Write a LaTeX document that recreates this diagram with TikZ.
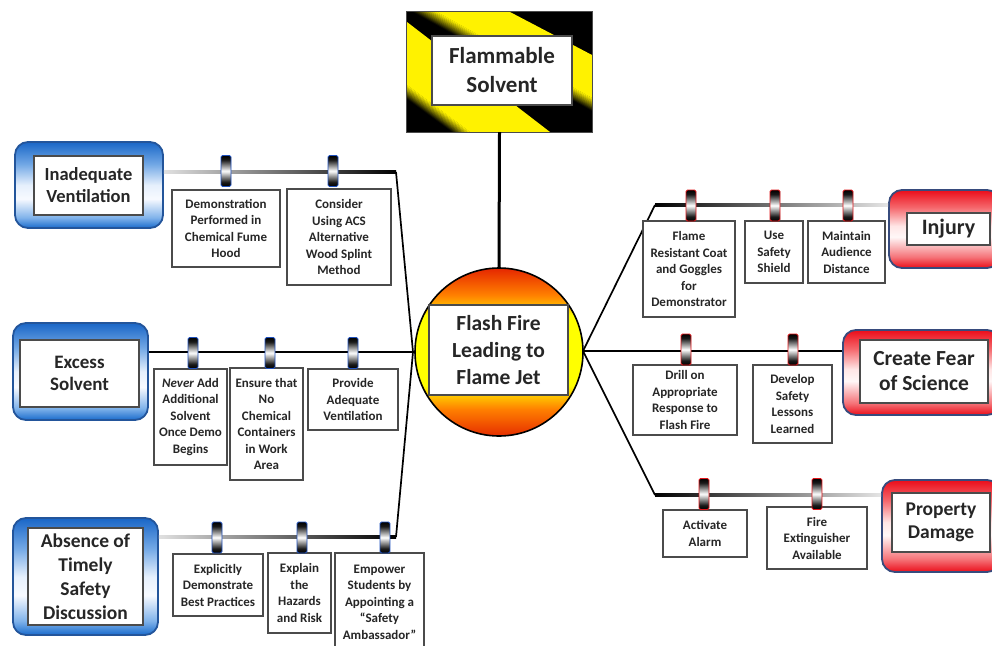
\documentclass[tikz,border=0pt]{standalone}
\usepackage{fontspec}
\setmainfont{Carlito}
\usetikzlibrary{calc}
\definecolor{txt}{RGB}{38,38,38}
\definecolor{boxline}{RGB}{75,75,75}
\definecolor{blueout}{RGB}{35,85,155}
\definecolor{redout}{RGB}{55,75,125}
\definecolor{clipblue}{RGB}{30,80,190}
\definecolor{clipred}{RGB}{225,20,25}
\definecolor{haz}{RGB}{255,242,0}
\pgfdeclareverticalshading{circshade}{100bp}{rgb(0bp)=(0.9,0.18,0); rgb(25bp)=(0.9,0.18,0); rgb(33bp)=(1,0.5,0); rgb(38bp)=(1,0.85,0); rgb(40bp)=(1,1,0); rgb(61bp)=(1,1,0); rgb(64bp)=(1,0.7,0); rgb(67bp)=(1,0.5,0); rgb(75bp)=(0.9,0.15,0); rgb(100bp)=(0.9,0.15,0)}
\pgfdeclareverticalshading{blueshade}{100bp}{rgb(0bp)=(0.1,0.42,0.8); rgb(25bp)=(0.1,0.42,0.8); rgb(31bp)=(0.5,0.7,0.92); rgb(42bp)=(0.97,0.98,1); rgb(50bp)=(0.9,0.94,0.99); rgb(62bp)=(0.45,0.66,0.9); rgb(75bp)=(0.1,0.4,0.78); rgb(100bp)=(0.1,0.4,0.78)}
\pgfdeclareverticalshading{redshade}{100bp}{rgb(0bp)=(0.92,0.05,0.1); rgb(25bp)=(0.92,0.05,0.1); rgb(32bp)=(0.96,0.45,0.47); rgb(45bp)=(1,0.97,0.97); rgb(52bp)=(1,0.9,0.9); rgb(64bp)=(0.96,0.4,0.42); rgb(75bp)=(0.92,0.05,0.1); rgb(100bp)=(0.92,0.05,0.1)}
\pgfdeclareverticalshading{clipshade}{100bp}{rgb(0bp)=(0,0,0); rgb(25bp)=(0,0,0); rgb(32bp)=(0.1,0.1,0.1); rgb(50bp)=(1,1,1); rgb(68bp)=(0.1,0.1,0.1); rgb(75bp)=(0,0,0); rgb(100bp)=(0,0,0)}
\begin{document}
\begin{tikzpicture}[x=1pt,y=-1pt,
 sbox/.style={draw=boxline,line width=1.1pt,fill=white,align=center,inner sep=0pt,text=txt,font=\fontsize{13}{16.5}\selectfont\bfseries},
 wbox/.style={draw=boxline,line width=1.4pt,fill=white,align=center,inner sep=0pt,text=txt},
 bluebox/.style={draw=blueout,line width=1.8pt,rounded corners=13pt,shade,shading=blueshade,inner sep=0pt},
 redbox/.style={draw=redout,line width=1.8pt,rounded corners=13pt,shade,shading=redshade,inner sep=0pt},
 clipb/.style={draw=clipblue,line width=0.9pt,rounded corners=1.5pt,shade,shading=clipshade,minimum width=10pt,minimum height=31pt,inner sep=0pt},
 clipr/.style={clipb,draw=clipred},
 mainline/.style={line width=2.4pt},
 diag/.style={line width=1.7pt,line join=round}]
\clip (0,0) rectangle (992,645);
\fill[white] (0,0) rectangle (992,645);

% ---- Flammable solvent (hazard box)
\node[minimum width=185pt,minimum height=120pt,inner sep=0pt] (fso) at (499.5,72) {};
\begin{scope}
 \clip (fso.north west) rectangle (fso.south east);
 \fill[black] (fso.north west) rectangle (fso.south east);
 \fill[haz] (437,12) -- (510,12) -- (592,55) -- (592,98) -- cycle;
 \fill[haz] (407,22) -- (550,132) -- (470,132) -- (407,85) -- cycle;
 \foreach \k in {0,...,11}{
   \pgfmathsetmacro\pc{(\k+0.5)*100/12}
   \pgfmathsetmacro\ta{\k/12}
   \pgfmathsetmacro\tb{(\k+1.2)/12}
   \fill[haz!\pc!black] (413+24*\ta,12) -- (592,111-13*\ta) -- (592,111-13*\tb) -- (413+24*\tb,12) -- cycle;
   \fill[haz!\pc!black] (407,99-14*\ta) -- (452+18*\ta,132) -- (452+18*\tb,132) -- (407,99-14*\tb) -- cycle;
 }
\end{scope}
\draw[boxline,line width=1pt] (fso.north west) rectangle (fso.south east);
\node[wbox,minimum width=140pt,minimum height=69pt,font=\fontsize{23}{29}\selectfont\bfseries] (fs) at (502,70.5) {Flammable\\Solvent};

% ---- big outer boxes
\node[bluebox,minimum width=148pt,minimum height=86pt] (invo) at (89,185) {};
\node[bluebox,minimum width=135pt,minimum height=97pt] (exo) at (80.5,371.5) {};
\node[bluebox,minimum width=145pt,minimum height=117pt] (abo) at (85.5,576.5) {};
\node[redbox,minimum width=111pt,minimum height=78pt] (injo) at (944.5,229) {};
\node[redbox,minimum width=157pt,minimum height=85pt] (fro) at (921.5,372.5) {};
\node[redbox,minimum width=118pt,minimum height=92pt] (dmo) at (941,526) {};

\node[wbox,minimum width=109pt,minimum height=59pt,font=\fontsize{18.5}{22}\selectfont\bfseries] (inv) at (88.5,185.5) {Inadequate\\Ventilation};
\node[wbox,minimum width=119pt,minimum height=67pt,font=\fontsize{19}{22}\selectfont\bfseries] (ex) at (79.5,373.5) {Excess\\Solvent};
\node[wbox,minimum width=115pt,minimum height=97pt,font=\fontsize{19.5}{24}\selectfont\bfseries] (ab) at (85.5,576.5) {Absence of\\Timely\\Safety\\Discussion};
\node[wbox,minimum width=83pt,minimum height=32pt,font=\fontsize{22}{26}\selectfont\bfseries] (inj) at (948.5,229) {Injury};
\node[wbox,minimum width=128pt,minimum height=63pt,font=\fontsize{21.5}{25}\selectfont\bfseries] (fr) at (924,371.5) {Create Fear\\of Science};
\node[wbox,minimum width=98pt,minimum height=59pt,font=\fontsize{19.5}{23}\selectfont\bfseries] (dm) at (941,522.5) {Property\\Damage};

% ---- junctions
\coordinate (jl) at (413,352);
\coordinate (jr) at (583,351);
\coordinate (cl1) at (396,172);
\coordinate (cl3) at (396,537);
\coordinate (cr1) at (655,205);
\coordinate (cr3) at (655,495);

% ---- circle
\node[circle,draw=black,line width=1.6pt,shade,shading=circshade,minimum size=168pt,inner sep=0pt] (fc) at (499,352) {};
\node[wbox,minimum width=139pt,minimum height=90pt,font=\fontsize{21.5}{27}\selectfont\bfseries] (ff) at (498.5,350) {Flash Fire\\Leading to\\Flame Jet};

% ---- connectors
\draw[line width=3pt] (fso.south) -- (fc.north);
\shade[left color=black!12,right color=black] ($(invo.east|-cl1)+(0,-1.2)$) rectangle ($(cl1)+(0,1.2)$);
\shade[left color=black!12,right color=black] ($(abo.east|-cl3)+(0,-1.2)$) rectangle ($(cl3)+(0,1.2)$);
\draw[diag] (cl1) -- (jl) -- (cl3);
\draw[mainline] (exo.east|-jl) -- (jl) -- (fc.west);
\shade[left color=black,middle color=black!70,right color=black!10] ($(cr1)+(0,-1.2)$) rectangle ($(injo.west|-cr1)+(0,1.2)$);
\shade[left color=black,middle color=black!70,right color=black!10] ($(cr3)+(0,-1.2)$) rectangle ($(dmo.west|-cr3)+(0,1.2)$);
\draw[diag] (cr1) -- (jr) -- (cr3);
\draw[mainline] (jr) -- (fro.west|-jr);

% ---- small boxes
\node[sbox,minimum width=108pt,minimum height=77pt] (a1) at (226,228.5) {Demonstration\\Performed in\\Chemical Fume\\Hood};
\node[sbox,minimum width=104pt,minimum height=96pt] (a2) at (339,237) {Consider\\Using ACS\\Alternative\\Wood Splint\\Method};
\node[sbox,minimum width=73pt,minimum height=96pt] (b1) at (190.5,417) {\textit{Never} Add\\Additional\\Solvent\\Once Demo\\Begins};
\node[sbox,minimum width=73pt,minimum height=112pt] (b2) at (266.5,424) {Ensure that\\No\\Chemical\\Containers\\in Work\\Area};
\node[sbox,minimum width=90pt,minimum height=61pt] (b3) at (353,399.5) {Provide\\Adequate\\Ventilation};
\node[sbox,minimum width=90pt,minimum height=62pt] (c1) at (218,585) {Explicitly\\Demonstrate\\Best Practices};
\node[sbox,minimum width=63pt,minimum height=80pt] (c2) at (299.5,593) {Explain\\the\\Hazards\\and Risk};
\node[sbox,minimum width=89pt,minimum height=98pt] (c3) at (379.5,602) {Empower\\Students by\\Appointing a\\“Safety\\Ambassador”};
\node[sbox,minimum width=92pt,minimum height=96pt] (d1) at (689,269) {Flame\\Resistant Coat\\and Goggles\\for\\Demonstrator};
\node[sbox,minimum width=58pt,minimum height=62pt] (d2) at (774,252) {Use\\Safety\\Shield};
\node[sbox,minimum width=77pt,minimum height=62pt] (d3) at (846.5,252) {Maintain\\Audience\\Distance};
\node[sbox,minimum width=104pt,minimum height=70pt] (e1) at (685,400) {Drill on\\Appropriate\\Response to\\Flash Fire};
\node[sbox,minimum width=79pt,minimum height=78pt] (e2) at (792.5,404) {Develop\\Safety\\Lessons\\Learned};
\node[sbox,minimum width=84pt,minimum height=47pt] (f1) at (705,533.5) {Activate\\Alarm};
\node[sbox,minimum width=100pt,minimum height=62pt] (f2) at (817,538) {Fire\\Extinguisher\\Available};

% ---- clips
\node[clipb] (k1) at (226,171) {};
\node[clipb] (k2) at (333,171) {};
\node[clipb] (k3) at (193,353) {};
\node[clipb] (k4) at (270,353) {};
\node[clipb] (k5) at (353,353) {};
\node[clipb] (k6) at (217,537.5) {};
\node[clipb] (k7) at (302,537.5) {};
\node[clipb] (k8) at (385,537.5) {};
\node[clipr] (k9) at (691,205.5) {};
\node[clipr] (k10) at (775,205.5) {};
\node[clipr] (k11) at (848,205.5) {};
\node[clipr] (k12) at (686,349.5) {};
\node[clipr] (k13) at (793,349.5) {};
\node[clipr] (k14) at (704,494) {};
\node[clipr] (k15) at (817,494) {};
\end{tikzpicture}
\end{document}
